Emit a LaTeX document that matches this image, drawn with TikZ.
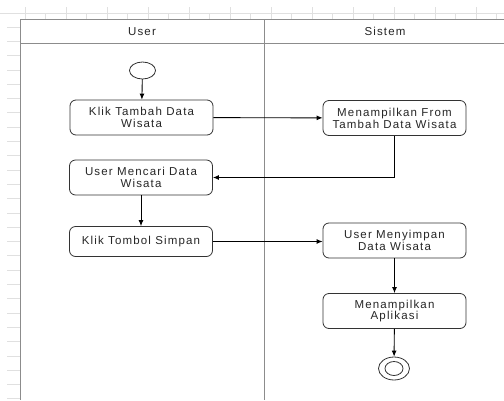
\documentclass[tikz,border=0pt]{standalone}
\usepackage{fontspec}
\setmainfont[LetterSpace=10]{Liberation Sans}
\usetikzlibrary{arrows.meta,shapes.geometric}

\begin{document}
\begin{tikzpicture}[x=1pt,y=-1pt,
  act/.style={draw=black!80, line width=0.8pt, rounded corners=6pt,
    minimum width=143pt, minimum height=35pt, inner sep=0pt, align=center,
    font=\fontsize{11.5}{11.8}\selectfont, text=black!85},
  flow/.style={draw=black, line width=0.9pt, -{Latex[length=6pt,width=5pt]}},
  lane/.style={draw=black!45, line width=0.8pt},
  tick/.style={draw=black!12, line width=0.8pt},
  head/.style={font=\fontsize{11.5}{12}\selectfont, text=black!85}]

\useasboundingbox (0,0) rectangle (504,400);
\fill[white] (0,0) rectangle (504,400);

% ruler along the top edge
\draw[tick] (0,13) -- (504,13);
\foreach \x in {25,66,...,504} \draw[tick] (\x,7) -- (\x,19);
\foreach \x in {45,86,...,504} \draw[tick] (\x,13) -- (\x,19);
% ruler along the left edge
\foreach \y in {27,41.3,...,400} \draw[tick] (7,\y) -- (20,\y);

% swimlanes
\draw[lane] (504,19) -- (20,19) -- (20,400);
\draw[lane] (20,43) -- (504,43);
\draw[lane] (264,19) -- (264,400);
\node[head] (hu) at (142,31.5) {User};
\node[head] (hs) at (385,31.5) {Sistem};

% initial node
\node[draw=black!80, line width=0.8pt, ellipse, minimum width=26pt,
  minimum height=17pt, inner sep=0pt] (start) at (142.5,70.5) {};

% activities
\node[act] (a) at (141.5,117.5) {Klik Tambah Data\\Wisata};
\node[act] (f) at (394.5,118) {Menampilkan From\\Tambah Data Wisata};
\node[act] (b) at (141,177.5) {User Mencari Data\\Wisata};
\node[act, minimum height=30pt] (c) at (141,241.5) {Klik Tombol Simpan};
\node[act] (d) at (394.5,240.5) {User Menyimpan\\Data Wisata};
\node[act] (e) at (394.5,311) {Menampilkan\\Aplikasi};

% final node
\node[draw=black!80, line width=0.8pt, ellipse, minimum width=31pt,
  minimum height=23pt, inner sep=0pt] (fin) at (394,368.5) {};
\node[draw=black!80, line width=0.8pt, ellipse, minimum width=18pt,
  minimum height=14pt, inner sep=0pt] (finin) at (394,368.5) {};

% control flow
\draw[flow] (start) -- (a);
\draw[flow] (a) -- (f);
\draw[flow] (f.south) |- (b.east);
\draw[flow] (b) -- (c);
\draw[flow] (c.east) -- (c.east -| d.west);
\draw[flow] (d) -- (e);
\draw[flow] (e) -- (fin);
\end{tikzpicture}
\end{document}
